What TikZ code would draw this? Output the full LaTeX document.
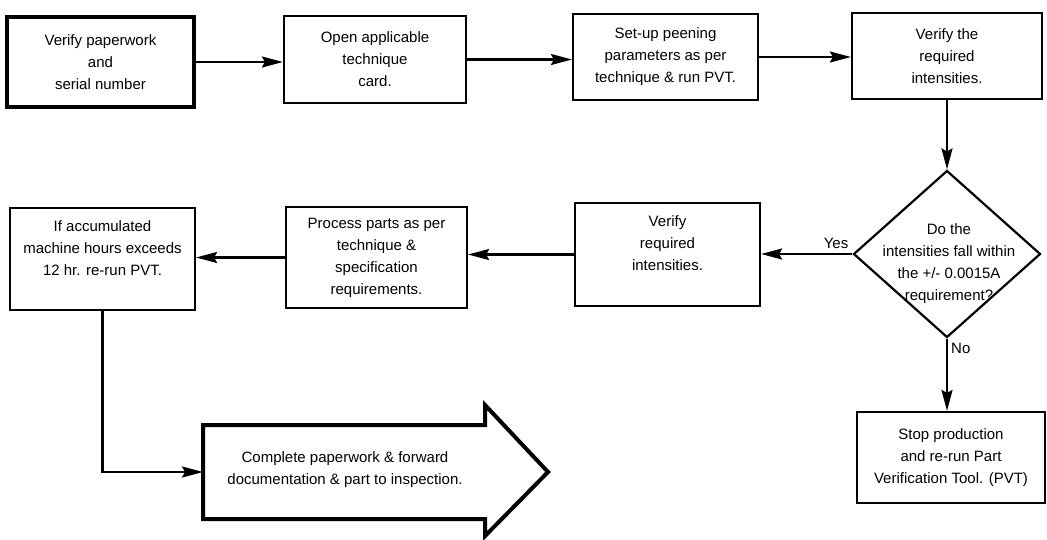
\documentclass[tikz,border=0pt]{standalone}
\usepackage{fontspec}
\setmainfont{Liberation Sans}
\usetikzlibrary{arrows.meta,shapes.geometric}
\begin{document}
\begin{tikzpicture}[x=1pt,y=-1pt,
  font=\fontsize{15}{22}\selectfont,
  box/.style={draw,line width=2.2pt,rectangle,align=center,inner sep=0pt},
  thickbox/.style={box,line width=4pt},
  conn/.style={line width=2.2pt,-{Stealth[length=21pt,width=11pt,inset=3pt]}},
  lbl/.style={inner sep=0pt}]
\useasboundingbox (0,0) rectangle (1047,539);
% top row
\node[thickbox,minimum width=187pt,minimum height=90pt] (b1) at (100.5,62) {Verify paperwork\\and\\serial number};
\node[box,minimum width=182pt,minimum height=87pt] (b2) at (375,59.5) {Open applicable\\technique\\card.};
\node[box,minimum width=185pt,minimum height=86pt] (b3) at (665.5,57) {Set-up peening\\parameters as per\\technique \& run PVT.};
\node[box,minimum width=190pt,minimum height=86pt] (b4) at (947,56) {Verify the\\required\\intensities.};
% decision
\node[draw,line width=2.2pt,diamond,inner sep=0pt,minimum width=187pt,minimum height=167pt] (dia) at (947,254) {};
\node[lbl,align=center] (diatext) at (949,264) {Do the\\intensities fall within\\the +/- 0.0015A\\requirement?};
% middle row
\node[box,minimum width=185pt,minimum height=103pt] (b5) at (667.5,254.5) {Verify\\required\\intensities.\\\mbox{}};
\node[box,minimum width=181pt,minimum height=101pt] (b6) at (376.5,257.5) {Process parts as per\\technique \&\\specification\\requirements.};
\node[box,minimum width=185pt,minimum height=102pt] (b7) at (102.5,259) {If accumulated\\machine hours exceeds\\12 hr. re-run PVT.\\\mbox{}};
% stop box
\node[box,minimum width=188pt,minimum height=91pt] (b8) at (951,457.5) {Stop production\\and re-run Part\\Verification Tool. (PVT)};
% big arrow
\draw[line width=4pt,line join=miter] (203,425) -- (485,425) -- (485,405) -- (548,472) -- (485,536) -- (485,519) -- (203,519) -- cycle;
\coordinate (tail) at (203,472);
\node[lbl,align=center] (final) at (345,470) {Complete paperwork \& forward\\documentation \& part to inspection.};
% labels
\node[lbl] (yes) at (836,243) {Yes};
\node[lbl,anchor=west] (no) at (951,348) {No};
% connectors
\draw[conn] (b1.east) -- (b2.west |- b1.east);
\draw[conn] (b2.east) -- (b3.west |- b2.east);
\draw[conn] (b3.east) -- (b4.west |- b3.east);
\draw[conn] (b4.south) -- (dia.north);
\draw[conn] (dia.west) -- (b5.east |- dia.west);
\draw[conn] (b5.west) -- (b6.east |- b5.west);
\draw[conn] (b6.west) -- (b7.east |- b6.west);
\draw[conn] (dia.south) -- (b8.north -| dia.south);
\draw[conn] (b7.south) |- (tail);
\end{tikzpicture}
\end{document}
